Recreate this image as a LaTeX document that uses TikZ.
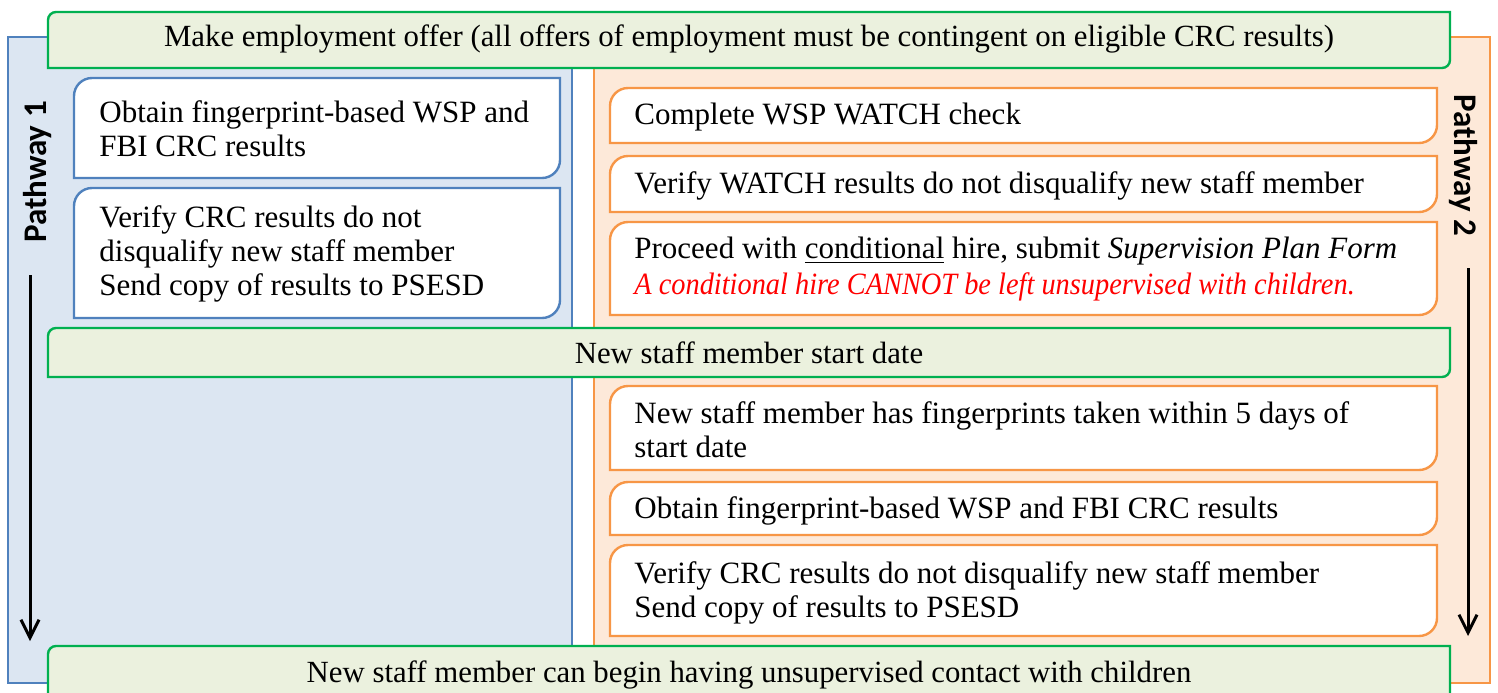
\documentclass[tikz,border=0pt]{standalone}
\usepackage{fontspec}
\usepackage{graphicx}
\setmainfont{Liberation Serif}
\newfontfamily\pathfont{Carlito}
\usetikzlibrary{arrows.meta}
\definecolor{bluefill}{HTML}{DCE6F2}
\definecolor{blueline}{HTML}{4F81BD}
\definecolor{orfill}{HTML}{FDE9D9}
\definecolor{orline}{HTML}{F79646}
\definecolor{grfill}{HTML}{EBF1DE}
\definecolor{grline}{HTML}{00B050}
\definecolor{redtxt}{HTML}{FF0000}
\newcommand\rdiag[3]{\draw[#3] (#1.north east) -- ([yshift=#2]#1.south east) arc[start angle=0,end angle=-90,radius=#2] -- (#1.south west) -- ([yshift=-#2]#1.north west) arc[start angle=180,end angle=90,radius=#2] -- cycle;}
\begin{document}
\begin{tikzpicture}[x=0.5pt,y=0.5pt,
  area/.style={draw=none,inner sep=0pt,outer sep=0pt,anchor=north west},
  panel/.style={area},
  txt/.style={font=\fontsize{15.5pt}{17pt}\selectfont, inner sep=0pt, align=left, anchor=west},
  ctxt/.style={font=\fontsize{15.4pt}{17pt}\selectfont, inner sep=0pt},
  pathlab/.style={font=\pathfont\bfseries\fontsize{16.5pt}{18pt}\selectfont, inner sep=0pt},
  bluestyle/.style={draw=blueline, fill=white, line width=1.2pt},
  orstyle/.style={draw=orline, fill=white, line width=1.2pt},
  grstyle/.style={draw=grline, fill=grfill, line width=1.2pt},
  flow/.style={line width=1.5pt, -{Straight Barb[length=9pt,width=9pt,line width=1.5pt]}}
]
\clip (0,0) rectangle (1498,-692);
% panels
\node[panel, minimum width=282pt, minimum height=323pt] (p1) at (8,-37) {};
\node[panel, minimum width=448pt, minimum height=323pt] (p2) at (594,-37) {};
\draw[draw=blueline, fill=bluefill, line width=1pt] (p1.north west) rectangle (p1.south east);
\draw[draw=orline, fill=orfill, line width=1pt] (p2.north west) rectangle (p2.south east);
% green bars
\node[area, minimum width=701pt, minimum height=28pt] (g1) at (48,-12) {};
\node[area, minimum width=701pt, minimum height=24.5pt] (g2) at (48,-328) {};
\node[area, minimum width=701pt, minimum height=30pt] (g3) at (48,-646) {};
\rdiag{g1}{4pt}{grstyle}
\rdiag{g2}{4pt}{grstyle}
\rdiag{g3}{4pt}{grstyle}
% blue boxes
\node[area, minimum width=243pt, minimum height=50pt] (b1) at (74,-78) {};
\node[area, minimum width=243pt, minimum height=65pt] (b2) at (74,-188) {};
\rdiag{b1}{9pt}{bluestyle}
\rdiag{b2}{9pt}{bluestyle}
% orange boxes
\node[area, minimum width=413.5pt, minimum height=27.5pt] (o1) at (610,-88) {};
\node[area, minimum width=413.5pt, minimum height=28pt] (o2) at (610,-156) {};
\node[area, minimum width=413.5pt, minimum height=46.5pt] (o3) at (610,-222) {};
\node[area, minimum width=413.5pt, minimum height=42pt] (o4) at (610,-386) {};
\node[area, minimum width=413.5pt, minimum height=26.5pt] (o5) at (610,-482) {};
\node[area, minimum width=413.5pt, minimum height=45.5pt] (o6) at (610,-545) {};
\foreach \n in {o1,o2,o3,o4,o5,o6}{\rdiag{\n}{9pt}{orstyle}}
% texts
\node[ctxt] (tg1) at ([yshift=0.5pt]g1.center) {Make employment offer (all offers of employment must be contingent on eligible CRC results)};
\node[ctxt] (tg2) at (g2.center) {New staff member start date};
\node[ctxt] (tg3) at (749,-675) {New staff member can begin having unsupervised contact with children};
\node[txt] (tb1) at ([xshift=12.5pt,yshift=-0.5pt]b1.west) {Obtain fingerprint-based WSP and\\FBI CRC results};
\node[txt] (tb2) at ([xshift=12.5pt,yshift=-0.5pt]b2.west) {Verify CRC results do not\\disqualify new staff member\\Send copy of results to PSESD};
\node[txt] (to1) at ([xshift=12pt,yshift=-1pt]o1.west) {Complete WSP WATCH check};
\node[txt] (to2) at ([xshift=12pt,yshift=-1pt]o2.west) {Verify WATCH results do not disqualify new staff member};
\node[txt] (to3) at ([xshift=12pt,yshift=-0.5pt]o3.west) {Proceed with \underline{conditional} hire, submit \textit{Supervision Plan Form}\\[1pt]\textcolor{redtxt}{\scalebox{0.915}[1]{\itshape A conditional hire CANNOT be left unsupervised with children.}}};
\node[txt] (to4) at ([xshift=12pt,yshift=-1pt]o4.west) {New staff member has fingerprints taken within 5 days of\\start date};
\node[txt] (to5) at ([xshift=12pt,yshift=-1pt]o5.west) {Obtain fingerprint-based WSP and FBI CRC results};
\node[txt] (to6) at ([xshift=12pt,yshift=-1pt]o6.west) {Verify CRC results do not disqualify new staff member\\Send copy of results to PSESD};
% pathway labels
\node[pathlab, rotate=90] (pl1) at (38,-172) {Pathway 1};
\node[pathlab, rotate=-90] (pl2) at (1463,-165) {Pathway 2};
% arrows
\coordinate (a1s) at (30,-275);
\coordinate (a1e) at (30,-641);
\coordinate (a2s) at (1468,-268);
\coordinate (a2e) at (1468,-636);
\draw[flow] (a1s) -- (a1e);
\draw[flow] (a2s) -- (a2e);
\end{tikzpicture}
\end{document}
